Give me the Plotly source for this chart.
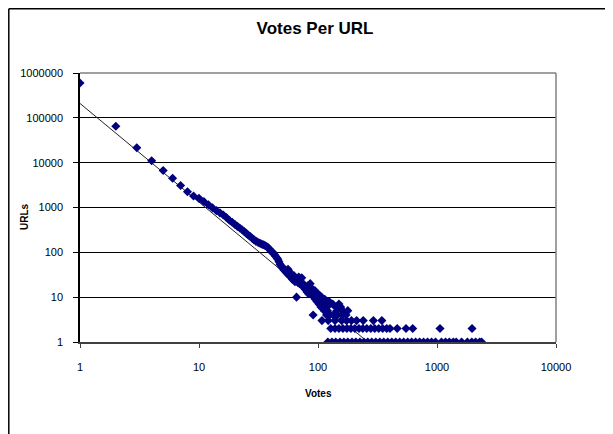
import plotly.graph_objects as go

# ---- data ----
# Dense part: every vote count 1..120 and its number of URLs
votes_dense = list(range(1, 121))
urls_dense = [
    600000, 65000, 21500, 11000, 6700, 4500, 3100, 2250, 1800, 1600,   # 1-10
    1350, 1150, 980, 850, 760, 680, 600, 520, 470, 420,                # 11-20
    380, 350, 320, 290, 265, 240, 225, 205, 190, 178,                  # 21-30
    170, 162, 158, 150, 148, 140, 135, 128, 118, 108,                  # 31-40
    102, 98, 90, 82, 76, 70, 62, 54, 50, 46,                           # 41-50
    43, 40, 41, 36, 34, 42, 31, 30, 28, 33,                            # 51-60
    25, 26, 30, 22, 24, 10, 22, 21, 28, 20,                            # 61-70
    21, 19, 27, 18, 20, 17, 18, 15, 16, 14,                            # 71-80
    13, 18, 12, 15, 14, 20, 12, 13, 11, 15,                            # 81-90
    4, 12, 10, 14, 9, 11, 10, 8, 12, 9,                                # 91-100
    10, 7, 11, 8, 9, 6, 10, 3, 7, 8,                                   # 101-110
    6, 7, 5, 9, 6, 5, 7, 4, 6, 5,                                      # 111-120
]

# Sparse tail (vote counts above 120), grouped by URL count
votes_tail_1 = [121, 131, 141, 153, 165, 178, 193, 208, 225, 243, 262, 283,
                306, 331, 357, 386, 417, 450, 486, 525, 567, 612, 661, 714,
                771, 833, 900, 972, 1090, 1180, 1270, 1370, 1450, 1610,
                1800, 1960, 2110, 2280, 2370]
votes_tail_2 = [128, 139, 150, 162, 175, 189, 204, 221, 238, 257, 278, 300,
                324, 350, 378, 403, 463, 549, 625, 1060, 1970]
votes_tail_3 = [122, 139, 158, 174, 191, 211, 240, 292, 344]
votes_tail_4 = [125, 134, 146, 160, 172]
votes_tail_5 = [144, 161, 178]
votes_tail_6 = [142, 155]
votes_tail_7 = [133, 150]
votes_tail_8 = [124]

# Power-law trend line: URLs = a * Votes^b
trend_a = 209000
trend_b = -2.2
trend_x = [1, 262]

x_ticks = [1, 10, 100, 1000, 10000]
y_ticks = [1, 10, 100, 1000, 10000, 100000, 1000000]

# ---- assemble ----
xs = list(votes_dense)
ys = list(urls_dense)
for c, arr in [(1, votes_tail_1), (2, votes_tail_2), (3, votes_tail_3),
               (4, votes_tail_4), (5, votes_tail_5), (6, votes_tail_6),
               (7, votes_tail_7), (8, votes_tail_8)]:
    xs += arr
    ys += [c] * len(arr)

trend_y = [trend_a * v ** trend_b for v in trend_x]

FONT = "Arial, 'Liberation Sans', sans-serif"
# page body has an 8px margin; the figure is sized to fit the window
OFF = 8
W, H = 613 - OFF, 434 - OFF
L, R, T, B = 80 - OFF, 57, 73 - OFF, 92
pw, ph = W - L - R, H - T - B


def px_x(p):
    """window pixel x -> paper coordinate"""
    return (p - OFF - L) / pw


def px_y(p):
    """window pixel y -> paper coordinate"""
    return (H - B - (p - OFF)) / ph


fig = go.Figure()
fig.add_trace(go.Scatter(
    x=trend_x, y=trend_y, mode="lines",
    line=dict(color="#222222", width=1), hoverinfo="skip", showlegend=False))
fig.add_trace(go.Scatter(
    x=xs, y=ys, mode="markers",
    marker=dict(symbol="diamond", size=7, color="#000080", line=dict(width=0)),
    showlegend=False))

fig.update_layout(
    width=W, height=H,
    margin=dict(l=L, r=R, t=T, b=B),
    paper_bgcolor="white", plot_bgcolor="white",
    font=dict(family=FONT, size=11, color="#000000"),
    title=dict(text="<b>Votes Per URL</b>", x=px_x(315), xref="paper",
               xanchor="center", y=1 - (28 - OFF) / H, yref="container",
               yanchor="middle", font=dict(size=17, color="#000000")),
    xaxis=dict(type="log", range=[0, 4], tickvals=x_ticks,
               ticktext=[str(v) for v in x_ticks], showgrid=False,
               showline=True, linecolor="#404040", linewidth=1.5,
               ticks="outside", ticklen=4, tickcolor="#404040",
               ticklabelstandoff=10, zeroline=False),
    yaxis=dict(type="log", range=[0, 6], tickvals=y_ticks,
               ticktext=[str(v) for v in y_ticks], showgrid=True,
               gridcolor="#000000", gridwidth=1,
               showline=True, linecolor="#000000", linewidth=1.5,
               ticks="outside", ticklen=5, tickcolor="#000000",
               ticklabelstandoff=8, zeroline=False),
    shapes=[
        # plot-area top and right border (gray)
        dict(type="line", xref="paper", yref="paper", x0=0, x1=1, y0=1, y1=1,
             line=dict(color="#808080", width=1.5)),
        dict(type="line", xref="paper", yref="paper", x0=1, x1=1, y0=0, y1=1,
             line=dict(color="#808080", width=1.5)),
        # outer chart frame (left and top edges)
        dict(type="line", xref="paper", yref="paper",
             x0=px_x(8.8), x1=px_x(8.8), y0=px_y(450), y1=px_y(8.8),
             line=dict(color="#000000", width=1.5)),
        dict(type="line", xref="paper", yref="paper",
             x0=px_x(8.8), x1=px_x(630), y0=px_y(8.8), y1=px_y(8.8),
             line=dict(color="#000000", width=1.5)),
    ],
    annotations=[
        dict(text="<b>URLs</b>", textangle=-90, xref="paper", yref="paper",
             x=px_x(24), y=px_y(217), showarrow=False,
             font=dict(size=10, color="#000000"),
             xanchor="center", yanchor="middle"),
        dict(text="<b>Votes</b>", xref="paper", yref="paper",
             x=px_x(318), y=px_y(393), showarrow=False,
             font=dict(size=10, color="#000000"),
             xanchor="center", yanchor="middle"),
    ],
)

fig.write_html("out.html")
